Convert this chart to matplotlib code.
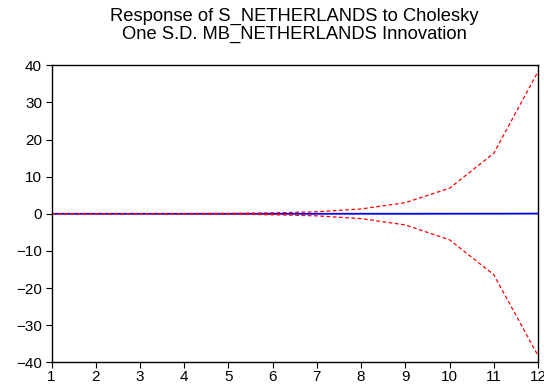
import matplotlib
matplotlib.use("Agg")
from matplotlib import pyplot as plt

plt.rcParams['font.family'] = ['Liberation Sans', 'DejaVu Sans']

# impulse response horizon and +/- 2 S.E. bands
periods = [1, 2, 3, 4, 5, 6, 7, 8, 9, 10, 11, 12]
response = [0.0, 0.0, 0.0, 0.0, 0.0, 0.0, 0.0, 0.01, 0.01, 0.02, 0.03, 0.05]
upper = [0.0, 0.01, 0.02, 0.05, 0.1, 0.25, 0.55, 1.3, 3.0, 6.9, 16.3, 38.3]
lower = [0.0, -0.01, -0.02, -0.05, -0.1, -0.25, -0.55, -1.3, -3.0, -7.0, -16.4, -38.2]

fig = plt.figure(figsize=(5.44, 3.87), dpi=100)
ax = fig.add_axes([0.0947, 0.0638, 0.8943, 0.7675])

ax.plot(periods, response, color='#0000ff', lw=1.3)
ax.plot(periods, upper, color='#ff0000', lw=0.9, ls=(0, (3, 2)))
ax.plot(periods, lower, color='#ff0000', lw=0.9, ls=(0, (3, 2)))

ax.set_xlim(1, 12)
ax.set_ylim(-40, 40)
ax.set_xticks(periods)
ax.set_yticks(range(-40, 41, 10))
ax.tick_params(labelsize=11, length=4.3, width=0.8)
ax.tick_params(axis='y', pad=2.5)
ax.tick_params(axis='x', pad=1)
for s in ax.spines.values():
    s.set_linewidth(1.0)

fig.text(0.541, 0.9465, "Response of S_NETHERLANDS to Cholesky", ha='center', va='baseline', fontsize=13.2)
fig.text(0.541, 0.901, "One S.D. MB_NETHERLANDS Innovation", ha='center', va='baseline', fontsize=13.2)

fig.savefig('out.png', dpi=100)
